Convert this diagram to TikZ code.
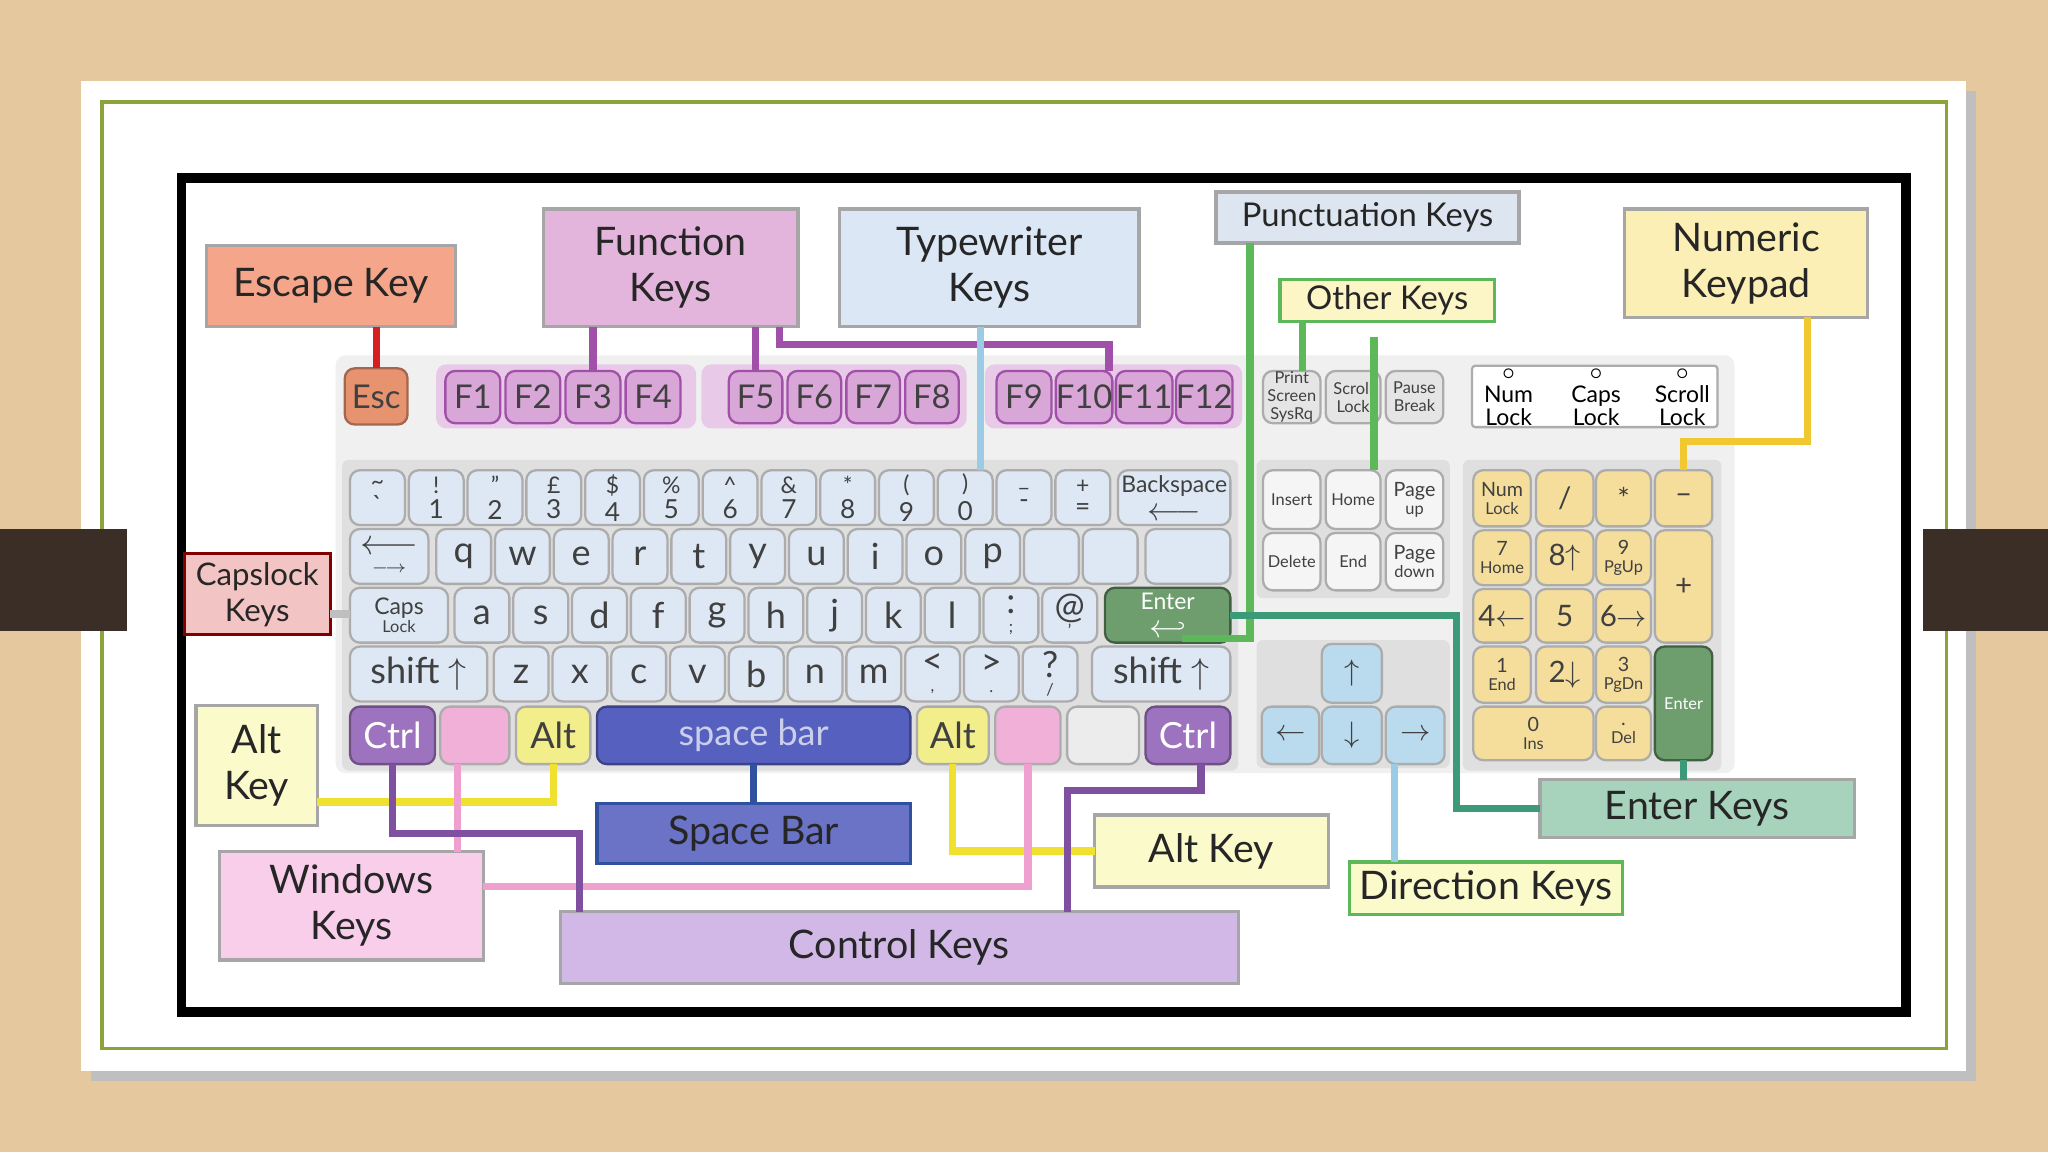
\documentclass[tikz,border=0pt]{standalone}
\usepackage{fontspec}
\setmainfont{Lato}
\usetikzlibrary{calc}
\definecolor{wood}{HTML}{E6C89E}
\definecolor{tab}{HTML}{3A2E26}
\definecolor{frameg}{HTML}{8AA33A}
\definecolor{cEsc}{HTML}{F4A58A}
\definecolor{cFun}{HTML}{E3B5DC}
\definecolor{cTyp}{HTML}{DCE7F5}
\definecolor{cPun}{HTML}{DDE6F0}
\definecolor{cOth}{HTML}{FCF6C6}
\definecolor{cNum}{HTML}{FBEFB5}
\definecolor{cCap}{HTML}{F2C4C4}
\definecolor{cAlt}{HTML}{FBFACB}
\definecolor{cWin}{HTML}{F9CEEB}
\definecolor{cSpc}{HTML}{6A73C6}
\definecolor{cCtl}{HTML}{D2B8E6}
\definecolor{cEnt}{HTML}{A7D3BC}
\definecolor{kEsc}{HTML}{E8936F}
\definecolor{kFun}{HTML}{D9A6D8}
\definecolor{kTyp}{HTML}{DDE8F4}
\definecolor{kEnt}{HTML}{6E9E6E}
\definecolor{kCtl}{HTML}{9D72BE}
\definecolor{kWin}{HTML}{F0B0D8}
\definecolor{kAlt}{HTML}{F2EE8C}
\definecolor{kSpc}{HTML}{5660BE}
\definecolor{kNum}{HTML}{F5DE9B}
\definecolor{lRed}{HTML}{D62020}
\definecolor{lPur}{HTML}{A050A8}
\definecolor{lBlu}{HTML}{9CCBE6}
\definecolor{lGrn}{HTML}{5DB85A}
\definecolor{lYel}{HTML}{F0E030}
\definecolor{lNum}{HTML}{F2C830}
\definecolor{lWin}{HTML}{EFA0CF}
\definecolor{lCtl}{HTML}{8050A0}
\definecolor{lSpc}{HTML}{3050A0}
\definecolor{lTeal}{HTML}{3C9A78}
\newcommand\bx[7]{\pgfmathsetmacro\bxa{#3}\pgfmathsetmacro\bxb{#4}\pgfmathsetmacro\bxc{#5}\pgfmathsetmacro\bxd{#6}%
\node[#1,minimum width={(\bxc-\bxa)*0.14mm},minimum height={(\bxd-\bxb)*0.14mm}] (#2) at ({(\bxa+\bxc)/2},{(\bxb+\bxd)/2}) {#7};}
\tikzset{
 lab/.style={draw=gray!70,line width=1pt,inner sep=0pt,outer sep=0pt,align=center,font=\fontsize{12}{14}\selectfont,text=black!85},
 key/.style={draw=gray!65,line width=0.7pt,rounded corners=3pt,inner sep=0pt,outer sep=0pt,align=center,font=\fontsize{5}{5.5}\selectfont,fill=kTyp,text=black!75},
 con/.style={line width=2.2pt},
}
\begin{document}
\begin{tikzpicture}[x=0.14mm,y=-0.14mm]
\useasboundingbox (0,0) rectangle (1568,882);
\fill[wood] (0,0) rectangle (1568,882);
\fill[black!25] (70,70) rectangle (1513,828);
\fill[white] (62,62) rectangle (1505,820);
\draw[frameg,line width=1pt] (78,78) rectangle (1490,803);
\fill[tab] (0,405) rectangle (97,483);
\fill[tab] (1472,405) rectangle (1568,483);
\draw[black,line width=3pt] (139,136) rectangle (1459,775);
% keyboard panel
\fill[gray!12,rounded corners=3pt] (257,272) rectangle (1328,592);
\fill[gray!25,rounded corners=2pt] (262,352) rectangle (948,590);
\fill[gray!25,rounded corners=2pt] (962,352) rectangle (1110,458);
\fill[gray!25,rounded corners=2pt] (962,490) rectangle (1110,588);
\fill[gray!25,rounded corners=2pt] (1120,352) rectangle (1318,590);
\fill[kFun!60,rounded corners=3pt] (334,279) rectangle (533,328);
\fill[kFun!60,rounded corners=3pt] (537,279) rectangle (740,328);
\fill[kFun!60,rounded corners=3pt] (754,279) rectangle (951,328);
% function row
\bx{key,fill=kEsc,draw=kEsc!70!black}{esc}{264}{282}{312}{325}{\fontsize{10}{10}\selectfont Esc}
\foreach \i/\t in {0/F1,1/F2,2/F3,3/F4}{\bx{key,fill=kFun,draw=lPur}{f\i}{341+\i*46}{284}{383+\i*46}{324}{\fontsize{10}{10}\selectfont\t}}
\foreach \i/\t in {4/F5,5/F6,6/F7,7/F8}{\bx{key,fill=kFun,draw=lPur}{f\i}{558+(\i-4)*45}{284}{599+(\i-4)*45}{324}{\fontsize{10}{10}\selectfont\t}}
\foreach \i/\t in {8/F9,9/F10,10/F11,11/F12}{\bx{key,fill=kFun,draw=lPur}{f\i}{763+(\i-8)*46}{284}{805+(\i-8)*46}{324}{\fontsize{10}{10}\selectfont\t}}
\bx{key,fill=gray!20}{prt}{967}{284}{1011}{324}{Print\\Screen\\SysRq}
\bx{key,fill=gray!20}{scr}{1015}{284}{1057}{324}{Scroll\\Lock}
\bx{key,fill=gray!20}{pau}{1061}{284}{1105}{324}{Pause\\Break}
\bx{key,fill=white,rounded corners=1pt}{ind}{1127}{280}{1315}{327}{}
\foreach \x/\t in {1155/Num\\Lock,1222/Caps\\Lock,1288/Scroll\\Lock}{\node[align=center,font=\fontsize{7}{7}\selectfont] at (\x,304) {$\circ$\\\t};}
% row 1
\foreach \i/\a/\b in {0/\textasciitilde/\textasciigrave,1/!/1,2/"/2,3/£/3,4/\$/4,5/\%/5,6/\^{}/6,7/\&/7,8/*/8,9/(/9,10/)/0,11/\_/-,12/+/=}
 {\bx{key}{r1k\i}{268+\i*45}{360}{310+\i*45}{402}{\fontsize{7}{7}\selectfont\a\\[1pt]\fontsize{8}{8}\selectfont\b}}
\bx{key}{bks}{856}{360}{942}{402}{\fontsize{7}{7}\selectfont Backspace\\[3pt]\fontsize{10}{4}\selectfont$\longleftarrow$}
% row 2
\bx{key}{tabk}{268}{405}{328}{447}{\fontsize{11}{5}\selectfont$\longleftarrow$\\$\longrightarrow$}
\foreach \i/\t in {0/q,1/w,2/e,3/r,4/t,5/y,6/u,7/i,8/o,9/p,10/,11/}
 {\bx{key}{r2k\i}{334+\i*45}{405}{376+\i*45}{447}{\fontsize{11}{11}\selectfont\t}}
\bx{key}{bsl}{877}{405}{942}{447}{}
% row 3
\bx{key}{caps}{268}{450}{343}{492}{\fontsize{7}{7}\selectfont Caps\\Lock}
\foreach \i/\t in {0/a,1/s,2/d,3/f,4/g,5/h,6/j,7/k,8/l,9/{:\\;},10/{@\\'}}
 {\bx{key}{r3k\i}{348+\i*45}{450}{390+\i*45}{492}{\fontsize{11}{8}\selectfont\t}}
\bx{key,fill=kEnt,draw=kEnt!60!black,text=white}{ent}{846}{450}{942}{492}{\fontsize{7}{7}\selectfont Enter\\[3pt]\fontsize{10}{4}\selectfont$\hookleftarrow$}
% row 4
\bx{key}{lsh}{268}{495}{373}{537}{\fontsize{11}{11}\selectfont shift $\uparrow$}
\foreach \i/\t in {0/z,1/x,2/c,3/v,4/b,5/n,6/m,7/{<\\,},8/{>\\.},9/{?\\/}}
 {\bx{key}{r4k\i}{378+\i*45}{495}{420+\i*45}{537}{\fontsize{11}{8}\selectfont\t}}
\bx{key}{rsh}{836}{495}{942}{537}{\fontsize{11}{11}\selectfont shift $\uparrow$}
% bottom row
\bx{key,fill=kCtl,draw=kCtl!70!black,text=white}{lctl}{268}{541}{333}{585}{\fontsize{11}{11}\selectfont Ctrl}
\bx{key,fill=kWin}{lwin}{337}{541}{390}{585}{}
\bx{key,fill=kAlt}{lalt}{395}{541}{452}{585}{\fontsize{11}{11}\selectfont Alt}
\bx{key,fill=kSpc,draw=kSpc!70!black,text=white!70!kSpc}{spc}{457}{541}{697}{585}{\fontsize{11}{11}\selectfont space bar}
\bx{key,fill=kAlt}{ralt}{702}{541}{757}{585}{\fontsize{11}{11}\selectfont Alt}
\bx{key,fill=kWin}{rwin}{762}{541}{812}{585}{}
\bx{key,fill=gray!15}{menu}{817}{541}{872}{585}{}
\bx{key,fill=kCtl,draw=kCtl!70!black,text=white}{rctl}{877}{541}{942}{585}{\fontsize{11}{11}\selectfont Ctrl}
% edit block
\bx{key,fill=gray!8}{ins}{967}{360}{1011}{405}{Insert}
\bx{key,fill=gray!8}{hom}{1015}{360}{1057}{405}{Home}
\bx{key,fill=gray!8}{pgu}{1061}{360}{1105}{405}{\fontsize{6}{6}\selectfont Page\\up}
\bx{key,fill=gray!8}{del}{967}{408}{1011}{452}{Delete}
\bx{key,fill=gray!8}{endk}{1015}{408}{1057}{452}{End}
\bx{key,fill=gray!8}{pgd}{1061}{408}{1105}{452}{\fontsize{6}{6}\selectfont Page\\down}
% arrows
\bx{key,fill=lBlu!70}{up}{1012}{493}{1058}{538}{\fontsize{9}{9}\selectfont$\uparrow$}
\bx{key,fill=lBlu!70}{left}{966}{541}{1010}{585}{\fontsize{9}{9}\selectfont$\leftarrow$}
\bx{key,fill=lBlu!70}{down}{1012}{541}{1058}{585}{\fontsize{9}{9}\selectfont$\downarrow$}
\bx{key,fill=lBlu!70}{right}{1061}{541}{1106}{585}{\fontsize{9}{9}\selectfont$\rightarrow$}
% numpad
\bx{key,fill=kNum}{nlk}{1128}{360}{1172}{403}{\fontsize{6}{6}\selectfont Num\\Lock}
\bx{key,fill=kNum}{nsl}{1176}{360}{1220}{403}{\fontsize{9}{9}\selectfont /}
\bx{key,fill=kNum}{nst}{1222}{360}{1264}{403}{\fontsize{9}{9}\selectfont *}
\bx{key,fill=kNum}{nmi}{1267}{360}{1311}{403}{\fontsize{9}{9}\selectfont --}
\bx{key,fill=kNum}{n7}{1128}{406}{1172}{448}{\fontsize{6}{6}\selectfont 7\\Home}
\bx{key,fill=kNum}{n8}{1176}{406}{1220}{448}{\fontsize{9}{9}\selectfont 8$\uparrow$}
\bx{key,fill=kNum}{n9}{1222}{406}{1264}{448}{\fontsize{6}{6}\selectfont 9\\PgUp}
\bx{key,fill=kNum}{npl}{1267}{406}{1311}{492}{\fontsize{9}{9}\selectfont +}
\bx{key,fill=kNum}{n4}{1128}{451}{1172}{492}{\fontsize{9}{9}\selectfont 4$\leftarrow$}
\bx{key,fill=kNum}{n5}{1176}{451}{1220}{492}{\fontsize{9}{9}\selectfont 5}
\bx{key,fill=kNum}{n6}{1222}{451}{1264}{492}{\fontsize{9}{9}\selectfont 6$\rightarrow$}
\bx{key,fill=kNum}{n1}{1128}{495}{1172}{538}{\fontsize{6}{6}\selectfont 1\\End}
\bx{key,fill=kNum}{n2}{1176}{495}{1220}{538}{\fontsize{9}{9}\selectfont 2$\downarrow$}
\bx{key,fill=kNum}{n3}{1222}{495}{1264}{538}{\fontsize{6}{6}\selectfont 3\\PgDn}
\bx{key,fill=kEnt,draw=kEnt!60!black,text=white}{nent}{1267}{495}{1311}{582}{Enter}
\bx{key,fill=kNum}{n0}{1128}{541}{1220}{582}{\fontsize{6}{6}\selectfont 0\\Ins}
\bx{key,fill=kNum}{ndt}{1222}{541}{1264}{582}{\fontsize{6}{6}\selectfont .\\Del}
% labels
\bx{lab,fill=cEsc}{Lesc}{158}{188}{349}{250}{Escape Key}
\bx{lab,fill=cFun}{Lfun}{416}{160}{611}{250}{Function\\Keys}
\bx{lab,fill=cTyp}{Ltyp}{643}{160}{872}{250}{Typewriter\\Keys}
\bx{lab,fill=cPun,font=\fontsize{10}{12}\selectfont}{Lpun}{931}{147}{1163}{186}{Punctuation Keys}
\bx{lab,fill=cOth,draw=lGrn,font=\fontsize{10}{12}\selectfont}{Loth}{980}{214}{1144}{246}{Other Keys}
\bx{lab,fill=cNum}{Lnum}{1244}{160}{1430}{243}{Numeric\\Keypad}
\bx{lab,fill=cCap,draw=red!50!black,font=\fontsize{9.5}{11}\selectfont}{Lcap}{141}{424}{253}{486}{Capslock\\Keys}
\bx{lab,fill=cAlt}{Lalt}{150}{540}{243}{632}{Alt\\Key}
\bx{lab,fill=cWin}{Lwin}{168}{652}{370}{735}{Windows\\Keys}
\bx{lab,fill=cSpc,draw=lSpc}{Lspc}{457}{615}{697}{661}{Space Bar}
\bx{lab,fill=cCtl}{Lctl}{429}{698}{948}{753}{Control Keys}
\bx{lab,fill=cAlt}{Lalt2}{838}{624}{1017}{679}{Alt Key}
\bx{lab,fill=cAlt,draw=lGrn}{Ldir}{1033}{660}{1242}{700}{Direction Keys}
\bx{lab,fill=cEnt}{Lent}{1179}{597}{1420}{641}{Enter Keys}
% connectors
\draw[con,lRed] (Lesc.south -| esc.north) -- (esc.north);
\draw[con,lPur] (f2.north) -- (f2.north |- Lfun.south);
\draw[con,lPur] (f4.north) -- (f4.north |- Lfun.south);
\draw[con,lPur] ($(Lfun.south east)+(-14,0)$) |- ($(f9.north)+(19,-20)$) -- ($(f9.north)+(19,0)$);
\draw[con,lBlu] ($(Ltyp.south)+(-7,0)$) coordinate (tb) -- (tb |- r1k10.north);
\draw[con,lGrn] ($(Lpun.south west)+(26,0)$) coordinate (pa) -- ($(pa |- rsh.north)+(0,-6)$) coordinate (pb) -- ++(-52,0) coordinate (pc);
\draw[con,lGrn] ($(Loth.south west)+(17,0)$) coordinate (oa) -- (oa |- prt.north);
\draw[con,lGrn] ($(Loth.south)+(-10,12)$) coordinate (ob) -- (ob |- hom.north);
\draw[con,lNum] ($(Lnum.south east)+(-46,0)$) -- ++(0,95) -| (nmi.north);
\draw[con,gray!50] ($(Lcap.east)+(0,15)$) coordinate (ca) -- (ca -| caps.west);
\draw[con,lYel] ($(Lalt.east)+(0,28)$) -| (lalt.south);
\draw[con,lYel] (ralt.south) |- (Lalt2.west);
\draw[con,lWin] ($(lwin.south)+(-13,0)$) coordinate (wa) -- (wa |- Lwin.north);
\draw[con,lWin] ($(Lwin.east)+(0,-15)$) -| (rwin.south);
\draw[con,lCtl] (lctl.south) |- ($(lctl.south)+(143,53)$) coordinate (ca1) -- (ca1 |- Lctl.north);
\draw[con,lCtl] ($(rctl.south)+(10,0)$) |- ($(rctl.south)+(-92,20)$) coordinate (cb1) -- (cb1 |- Lctl.north);
\draw[con,lSpc] ($(spc.south)+(0,0)$) -- (Lspc.north);
\draw[con,lBlu] ($(right.south)+(-16,0)$) coordinate (da) -- (da |- Ldir.north);
\draw[con,lTeal] (ent.east) -| ($(Lent.west)+(-64,0)$) -- (Lent.west);
\draw[con,lTeal] (nent.south) -- (nent.south |- Lent.north);
\end{tikzpicture}
\end{document}
